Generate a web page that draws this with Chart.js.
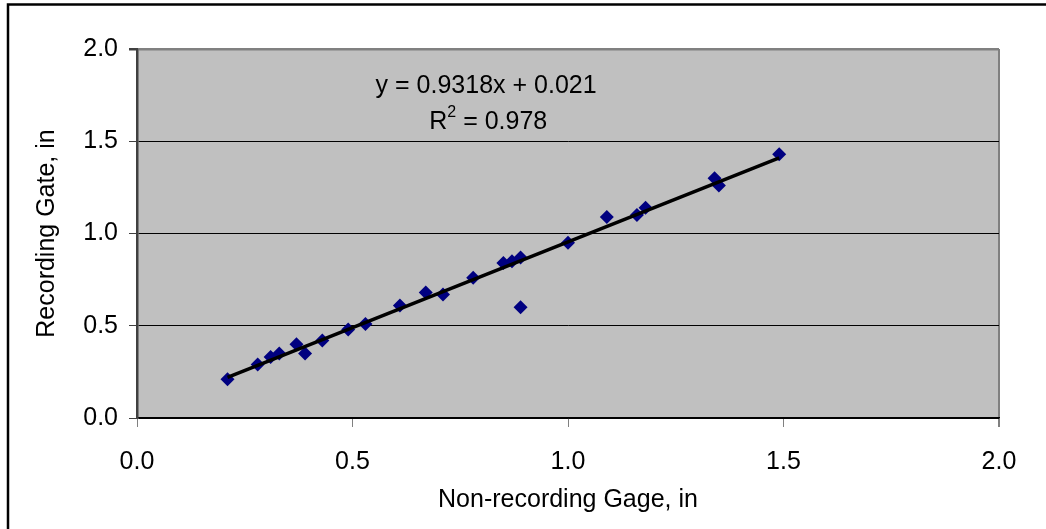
<!DOCTYPE html>
<html>
<head>
<meta charset="utf-8">
<script src="https://cdn.jsdelivr.net/npm/chart.js@4/dist/chart.umd.min.js"></script>
<style>
  html, body { margin:0; padding:0; background:#fff; }
  #wrap { width:1046px; height:529px; position:relative; }
</style>
</head>
<body>
<div id="wrap"><canvas id="chart" width="1046" height="529"></canvas></div>
<script>
'use strict';
// ── Data ─────────────────────────────────────────────────────────────────────
const gageX = [0.21, 0.28, 0.31, 0.33, 0.37, 0.39, 0.43, 0.49, 0.53, 0.61, 0.67, 0.71,
               0.78, 0.85, 0.87, 0.89, 0.89, 1.00, 1.09, 1.16, 1.18, 1.34, 1.35, 1.49];
const gateY = [0.21, 0.29, 0.33, 0.35, 0.40, 0.35, 0.42, 0.48, 0.51, 0.61, 0.68, 0.67,
               0.76, 0.84, 0.85, 0.87, 0.60, 0.95, 1.09, 1.10, 1.14, 1.30, 1.26, 1.43];
const trendX = [0.21, 1.49];
const trendY = [0.22, 1.41];
const tickVals = [0, 0.5, 1.0, 1.5, 2.0];
const eqLine1 = 'y = 0.9318x + 0.021';
const eqR2 = '0.978';

const FONT = "'Liberation Sans', Arial, sans-serif";
const FS = 25;

const toPts = (xs, ys) => xs.map((x, i) => ({ x, y: ys[i] }));

// plot background, outer frame, equation text
const decor = {
  id: 'decor',
  beforeDraw(chart) {
    const { ctx, chartArea: a } = chart;
    ctx.save();
    ctx.fillStyle = '#fff';
    ctx.fillRect(0, 0, chart.width, chart.height);
    ctx.fillStyle = '#c0c0c0';
    ctx.fillRect(a.left, a.top, a.right - a.left, a.bottom - a.top);
    ctx.strokeStyle = '#000';
    ctx.lineWidth = 2.5;
    ctx.strokeRect(8, 4.5, chart.width + 10, chart.height + 10);
    ctx.restore();
  },
  afterDatasetsDraw(chart) {
    const { ctx, scales: { x, y } } = chart;
    ctx.save();
    ctx.fillStyle = '#000';
    ctx.textBaseline = 'middle';
    ctx.font = `${FS}px ${FONT}`;
    ctx.textAlign = 'center';
    ctx.fillText(eqLine1, x.getPixelForValue(0.81), y.getPixelForValue(1.8));
    // R² line with superscript
    const big = `${FS}px ${FONT}`, small = `${Math.round(FS * 0.62)}px ${FONT}`;
    const rest = ' = ' + eqR2;
    ctx.font = big;  const wR = ctx.measureText('R').width, wRest = ctx.measureText(rest).width;
    ctx.font = small; const w2 = ctx.measureText('2').width;
    const cx = x.getPixelForValue(0.815), cy = y.getPixelForValue(1.605);
    let px = cx - (wR + w2 + wRest) / 2;
    ctx.textAlign = 'left';
    ctx.font = big;  ctx.fillText('R', px, cy); px += wR;
    ctx.font = small; ctx.fillText('2', px, cy - 9); px += w2;
    ctx.font = big;  ctx.fillText(rest, px, cy);
    ctx.restore();
  }
};

new Chart(document.getElementById('chart'), {
  type: 'scatter',
  data: {
    datasets: [
      { label: 'Trend', data: toPts(trendX, trendY), showLine: true, borderColor: '#000',
        borderWidth: 3.5, pointRadius: 0, order: 0 },
      { label: 'Gage', data: toPts(gageX, gateY), pointStyle: 'rectRot', pointRadius: 7,
        backgroundColor: '#000080', borderColor: '#000080', borderWidth: 0, order: 1 },
    ]
  },
  options: {
    responsive: false, animation: false, devicePixelRatio: 1,
    layout: { padding: { left: 0, top: 49, right: 47, bottom: 0 } },
    plugins: { legend: { display: false }, tooltip: { enabled: false } },
    scales: {
      x: {
        type: 'linear', min: 0, max: 2,
        afterBuildTicks: s => { s.ticks = tickVals.map(v => ({ value: v })); },
        afterFit: s => { s.height = 111; },
        grid: { drawOnChartArea: true, color: c => c.tick && c.tick.value === 2 ? '#808080' : 'rgba(0,0,0,0)',
                lineWidth: c => c.tick && c.tick.value === 2 ? 2 : 1, tickColor: '#808080', tickLength: 9 },
        border: { color: '#000', width: 1.5 },
        ticks: { color: '#000', font: { family: FONT, size: FS }, padding: 20, maxRotation: 0,
                 callback: v => v.toFixed(1) },
        title: { display: true, text: 'Non-recording Gage, in', color: '#000',
                 font: { family: FONT, size: FS }, padding: { top: 0, bottom: 14 } }
      },
      y: {
        type: 'linear', min: 0, max: 2,
        afterBuildTicks: s => { s.ticks = tickVals.map(v => ({ value: v })); },
        afterFit: s => { s.width = 137; },
        grid: { color: c => c.tick && c.tick.value === 2 ? '#808080' : '#000',
                lineWidth: c => c.tick && c.tick.value === 2 ? 2.5 : 1, tickColor: '#404040', tickLength: 8 },
        border: { color: '#404040', width: 2.5 },
        ticks: { color: '#000', font: { family: FONT, size: FS }, padding: 11,
                 callback: v => v.toFixed(1) },
        title: { display: true, text: 'Recording Gate, in', color: '#000',
                 font: { family: FONT, size: FS }, padding: { top: 32, bottom: 0 } }
      }
    }
  },
  plugins: [decor]
});
</script>
</body>
</html>
